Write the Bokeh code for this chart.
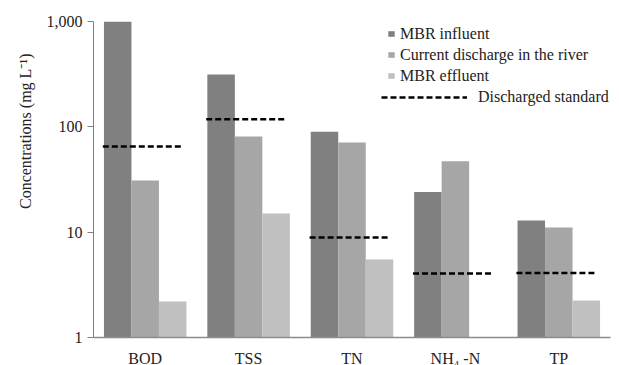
from bokeh.plotting import figure
from bokeh.models import (ColumnDataSource, FactorRange, Range1d, FixedTicker,
                          NumeralTickFormatter, Legend, LegendItem, Title)
from bokeh.transform import dodge
from bokeh.embed import file_html
from bokeh.resources import INLINE

categories = ["BOD", "TSS", "TN", "NH\u2084 -N", "TP"]
mbr_influent = [1000, 314, 90, 24, 12.9]
river_discharge = [31, 81, 71, 47, 11.1]
mbr_effluent = [2.2, 15, 5.5, 1.0, 2.25]
discharge_standard = [65, 118, 8.9, 4.05, 4.1]
y_ticks = [1, 10, 100, 1000]

FONT = "Liberation Serif"

src = ColumnDataSource(dict(cat=categories, inf=mbr_influent, riv=river_discharge,
                            eff=mbr_effluent, std=discharge_standard))

p = figure(x_range=FactorRange(*categories), y_range=Range1d(1, 1000),
           y_axis_type="log", frame_width=517, frame_height=316,
           output_backend="svg", toolbar_location=None,
           min_border_left=93, min_border_right=9, min_border_top=21,
           min_border_bottom=20)
p.outline_line_color = None
p.xgrid.visible = False
p.ygrid.visible = False
p.background_fill_color = "white"

bw = 0.266
r1 = p.vbar(x=dodge("cat", -bw, range=p.x_range), top="inf", bottom=1, width=bw,
            source=src, fill_color="#808080", line_color=None)
r2 = p.vbar(x=dodge("cat", 0, range=p.x_range), top="riv", bottom=1, width=bw,
            source=src, fill_color="#a6a6a6", line_color=None)
r3 = p.vbar(x=dodge("cat", bw, range=p.x_range), top="eff", bottom=1, width=bw,
            source=src, fill_color="#c0c0c0", line_color=None)
r4 = p.segment(x0=dodge("cat", -0.41, range=p.x_range), x1=dodge("cat", 0.36, range=p.x_range),
               y0="std", y1="std", source=src, line_color="black", line_width=2.5,
               line_dash="6 3")

# axes
p.yaxis.ticker = FixedTicker(ticks=y_ticks)
p.yaxis.formatter = NumeralTickFormatter(format="0,0")
p.yaxis.minor_tick_line_color = None
p.yaxis.major_tick_in = 0
p.yaxis.major_tick_out = 6
p.yaxis.axis_line_color = "#7f7f7f"
p.yaxis.major_tick_line_color = "#7f7f7f"
p.yaxis.major_label_text_font = FONT
p.yaxis.major_label_text_font_size = "16px"
p.yaxis.major_label_text_color = "#222222"
p.yaxis.major_label_standoff = 5

p.xaxis.axis_line_color = "#8c8c8c"
p.xaxis.axis_line_width = 1.5
p.xaxis.major_tick_line_color = None
p.xaxis.minor_tick_line_color = None
p.xaxis.major_label_text_font = FONT
p.xaxis.major_label_text_font_size = "16px"
p.xaxis.major_label_text_color = "#222222"
p.xaxis.major_label_standoff = 6

p.add_layout(Title(text="Concentrations (mg L\u207b\u00b9)", align="right", offset=32,
                   text_font=FONT, text_font_size="16px", text_font_style="normal",
                   text_color="#222222", standoff=20), "left")

leg1 = Legend(items=[LegendItem(label="MBR influent", renderers=[r1]),
                     LegendItem(label="Current discharge in the river", renderers=[r2]),
                     LegendItem(label="MBR effluent", renderers=[r3])],
              location=(294, 251), glyph_width=8, glyph_height=7,
              label_standoff=5, label_height=21, spacing=0, padding=0, margin=0,
              border_line_color=None, background_fill_alpha=0,
              label_text_font=FONT, label_text_font_size="16px",
              label_text_color="#222222")
leg2 = Legend(items=[LegendItem(label="Discharged standard", renderers=[r4])],
              location=(288, 230), glyph_width=86, glyph_height=14,
              label_standoff=11, label_height=21, spacing=0, padding=0, margin=0,
              border_line_color=None, background_fill_alpha=0,
              label_text_font=FONT, label_text_font_size="16px",
              label_text_color="#222222")
p.add_layout(leg1, "center")
p.add_layout(leg2, "center")

open("out.html", "w").write(file_html(p, INLINE))
